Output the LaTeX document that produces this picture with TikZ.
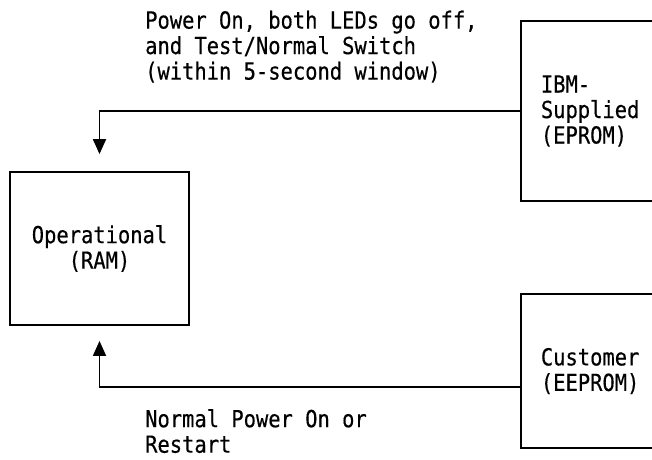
\documentclass[tikz,border=0pt]{standalone}
\usepackage{fontspec}
\newfontfamily\ibmfont[FakeStretch=0.87,FakeBold=0.4]{DejaVu Sans Mono}
\usetikzlibrary{arrows.meta}
\begin{document}
\begin{tikzpicture}[x=1pt,y=-1pt,
  every node/.style={font=\ibmfont\fontsize{23.5}{25.5}\selectfont},
  state/.style={draw, line width=1.8pt},
  sidebox/.style={state, anchor=west, text width=160pt, inner xsep=20pt,
                  inner ysep=0pt, align=left},
  lbl/.style={align=left, inner sep=0pt, anchor=north west},
  flow/.style={line width=1.8pt, -{Triangle[width=13pt,length=15pt]}}]
\useasboundingbox (0,0) rectangle (652,459);
\clip (0,0) rectangle (652,459);

% memory states
\node[state, minimum width=179pt, minimum height=153pt, align=center]
  (op) at (99.5,248.5) {Operational\\(RAM)};
\node[sidebox, minimum height=180pt] (ibm) at (520,111)
  {IBM-\\Supplied\\(EPROM)};
\node[sidebox, minimum height=154pt] (cust) at (520,371)
  {Customer\\(EEPROM)};

% transitions into the operational code
\draw[flow, shorten >=17pt] (ibm.west) -| (op.north);
\draw[flow, shorten >=15pt] ([yshift=-16pt]cust.west) -| (op.south);

% transition conditions
\node[lbl] (toplbl) at (145,10.5)
  {Power On, both LEDs go off,\\and Test/Normal Switch\\(within 5-second window)};
\node[lbl] (botlbl) at (145,409) {Normal Power On or\\Restart};
\end{tikzpicture}
\end{document}
